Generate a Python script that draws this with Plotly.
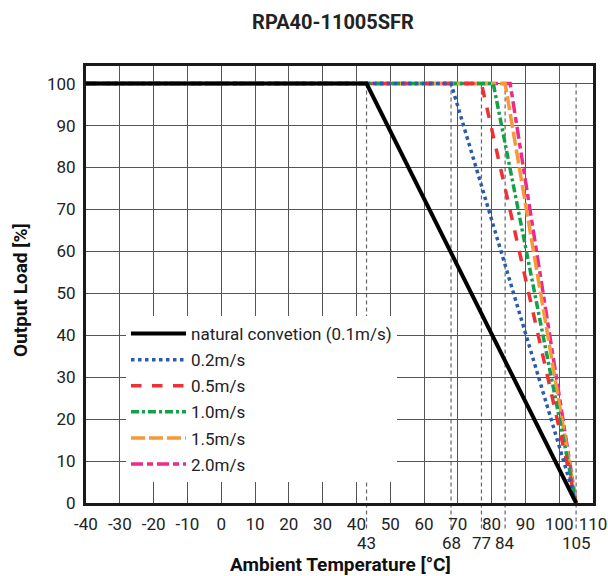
import plotly.graph_objects as go

# ---- data ----
series_names = ["natural convetion (0.1m/s)", "0.2m/s", "0.5m/s", "1.0m/s", "1.5m/s", "2.0m/s"]
knee_temps = [43, 68, 77, 80.5, 84, 85.5]
end_temp = 105
t_min = -40
load_full = 100
load_zero = 0
marked_temps = [43, 68, 77, 84, 105]
x_ticks = list(range(-40, 111, 10))
y_ticks = list(range(0, 101, 10))

colors = ["#000000", "#2a5caa", "#ee3135", "#15a04a", "#f7983a", "#ea2d8a"]
dashes = ["solid", "dot", "dash", "8px,3px,3px,3px", "14px,4px", "12px,4px,6px,4px"]

FONT = "Roboto, sans-serif"
Y_TOP = 104.2
W, H = 608, 576
# plot area in page pixels
PL, PR, PT, PB = 86, 593, 66, 503
L, T = PL, PT
R, B = W - PR, H - PB
PH = PB - PT
PW = PR - PL


def px(xp):
    return (xp - PL) / PW


def py(yp):
    return (PB - yp) / PH


fig = go.Figure()
order = [5, 4, 3, 2, 1, 0]
for i in order:
    fig.add_trace(go.Scatter(
        x=[t_min, knee_temps[i], end_temp],
        y=[load_full, load_full, load_zero],
        mode="lines",
        name=series_names[i],
        legendgroup=series_names[i],
        legendrank=i + 1,
        line=dict(color=colors[i], width=3.5 if i else 4, dash=dashes[i]),
    ))

shapes = []
for t in marked_temps:
    shapes.append(dict(type="line", xref="x", yref="paper", x0=t, x1=t,
                       y0=100 / Y_TOP, y1=py(531), layer="below",
                       line=dict(color="#666666", width=1.2, dash="4px,3px")))

annotations = []
for t in marked_temps:
    annotations.append(dict(x=t, xref="x", y=py(543), yref="paper", text=str(t),
                            showarrow=False, yanchor="middle",
                            font=dict(family=FONT, size=17, color="#222222")))
annotations.append(dict(x=px(340), xref="paper", y=py(564), yref="paper",
                        text="<b>Ambient Temperature [°C]</b>", showarrow=False,
                        xanchor="center", yanchor="middle",
                        font=dict(family=FONT, size=19, color="#111111")))
annotations.append(dict(x=px(20), xref="paper", y=py(290), yref="paper",
                        text="<b>Output Load [%]</b>", showarrow=False, textangle=-90,
                        xanchor="center", yanchor="middle",
                        font=dict(family=FONT, size=19, color="#111111")))

fig.update_layout(
    width=W, height=H,
    margin=dict(l=L, r=R, t=T, b=B, autoexpand=False),
    paper_bgcolor="white", plot_bgcolor="white",
    title=dict(text="<b>RPA40-11005SFR</b>", x=333 / W, xanchor="center",
               y=1 - 22 / H, yanchor="middle", yref="container",
               font=dict(family=FONT, size=20, color="#222222")),
    showlegend=True,
    legend=dict(x=px(126), y=py(316), xanchor="left", yanchor="top",
                bgcolor="white", borderwidth=0, itemwidth=55,
                tracegroupgap=1, traceorder="grouped",
                font=dict(family=FONT, size=17, color="#222222")),
    shapes=shapes,
    annotations=annotations,
)
fig.update_xaxes(range=[-40, 110], tickvals=x_ticks, ticktext=[str(v) for v in x_ticks],
                 automargin=False,
                 showgrid=True, gridcolor="#555555", gridwidth=1.4,
                 showline=True, linecolor="#1a1a1a", linewidth=3, mirror=True,
                 zeroline=False, ticks="", ticklabelstandoff=4,
                 tickfont=dict(family=FONT, size=17, color="#222222"))
fig.update_yaxes(range=[0, Y_TOP], tickvals=y_ticks, automargin=False,
                 showgrid=True, gridcolor="#555555", gridwidth=1.4,
                 showline=True, linecolor="#1a1a1a", linewidth=3, mirror=True,
                 zeroline=False, ticks="", ticklabelstandoff=4,
                 tickfont=dict(family=FONT, size=17, color="#222222"))

fig.write_html("out.html", config={"displayModeBar": False},
               post_script="document.body.style.margin='0';document.body.style.overflow='hidden';")
